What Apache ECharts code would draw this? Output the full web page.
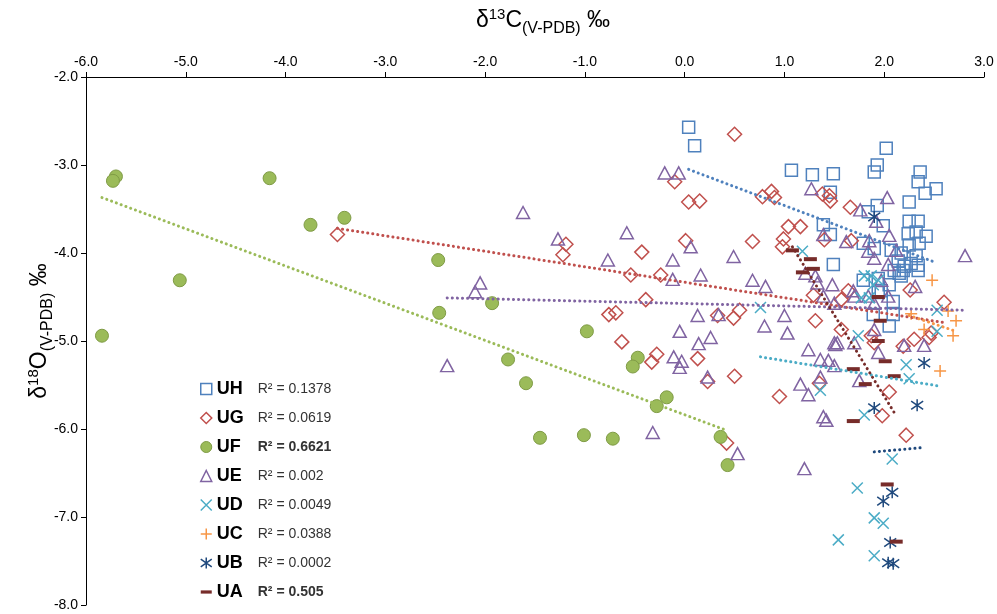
<!DOCTYPE html>
<html>
<head>
<meta charset="utf-8">
<script src="https://cdn.jsdelivr.net/npm/echarts@6/dist/echarts.min.js"></script>
<style>
html, body { margin: 0; padding: 0; background: #fff; }
#chart { width: 997px; height: 614px; }
</style>
</head>
<body>
<div id="chart"></div>
<script>
// δ13C (x) / δ18O (y) pairs per unit
var dataUH = [[0.04,-2.57],[0.10,-2.78],[1.07,-3.06],[1.28,-3.11],[1.49,-3.10],[1.46,-3.31],[1.39,-3.68],[1.46,-3.79],[1.49,-4.13],
    [2.02,-2.81],[1.93,-3.00],[1.90,-3.08],[2.36,-3.08],[2.34,-3.19],[2.41,-3.32],[2.52,-3.27],[2.25,-3.42],[1.93,-3.46],[1.84,-3.53],
    [1.99,-3.69],[2.25,-3.64],[2.34,-3.64],[2.32,-3.76],[2.24,-3.78],[2.42,-3.81],[2.25,-3.91],[2.35,-3.89],[2.07,-3.97],[2.17,-4.00],
    [2.32,-4.03],[1.79,-3.89],[1.90,-3.95],[2.14,-4.09],[2.27,-4.12],[2.34,-4.14],[2.19,-4.20],[2.10,-4.20],[2.20,-4.15],[2.17,-4.26],
    [1.79,-4.31],[1.94,-4.29],[2.15,-4.23],[2.34,-4.20],[2.05,-4.36],[1.97,-4.43],[2.09,-4.55],[1.94,-4.45],[1.89,-4.70],[2.05,-4.83],[2.09,-4.70]];
var dataUG = [[-3.48,-3.79],[-0.10,-3.19],[0.04,-3.42],[0.01,-3.86],[-1.19,-3.90],[-1.22,-4.02],[-0.43,-3.99],[-0.54,-4.25],[-0.24,-4.25],
    [-0.39,-4.53],[-0.76,-4.70],[-0.69,-4.68],[-0.63,-5.01],[-0.28,-5.15],[-0.33,-5.24],[0.13,-5.20],[0.23,-5.46],[0.50,-5.40],[0.95,-5.63],
    [1.35,-5.48],[0.42,-6.16],[0.50,-2.65],[0.15,-3.41],[0.87,-3.30],[0.78,-3.36],[0.90,-3.37],[1.38,-3.33],[1.45,-3.35],[1.46,-3.41],
    [1.04,-3.70],[1.16,-3.70],[1.40,-3.85],[0.99,-3.84],[0.98,-3.93],[0.68,-3.87],[0.33,-4.71],[0.49,-4.74],[0.55,-4.65],[1.29,-4.48],
    [1.31,-4.77],[1.57,-4.53],[1.57,-4.87],[1.66,-3.48],[1.67,-3.86],[2.26,-4.42],[2.60,-4.56],[2.47,-4.91],[2.30,-4.98],[2.19,-5.06],
    [1.87,-4.94],[1.90,-5.02],[2.05,-5.58],[1.98,-5.85],[2.22,-6.07],[1.64,-4.43],[2.45,-4.96]];
var dataUF = [[-5.84,-4.94],[-5.70,-3.13],[-5.73,-3.18],[-4.16,-3.15],[-5.06,-4.31],[-3.75,-3.68],[-3.41,-3.60],[-2.47,-4.08],[-2.46,-4.68],
    [-1.93,-4.57],[-0.98,-4.89],[-1.77,-5.21],[-1.59,-5.48],[-0.47,-5.19],[-0.52,-5.29],[-0.18,-5.64],[-0.28,-5.74],[-1.45,-6.10],
    [-1.01,-6.07],[-0.72,-6.11],[0.36,-6.09],[0.43,-6.41]];
var dataUE = [[-0.20,-3.09],[-0.06,-3.09],[-1.62,-3.54],[-1.27,-3.84],[-0.58,-3.77],[-0.77,-4.08],[-0.12,-4.08],[-0.12,-4.30],[0.06,-3.93],
    [-2.05,-4.34],[-2.10,-4.44],[-2.38,-5.28],[-0.05,-4.89],[-0.11,-5.18],[-0.03,-5.23],[-0.05,-5.30],[-0.32,-6.04],[0.49,-4.04],[0.16,-4.25],
    [0.68,-4.31],[0.81,-4.38],[1.27,-3.27],[1.39,-3.79],[1.21,-4.23],[1.31,-4.26],[1.48,-4.36],[0.13,-4.71],[0.34,-4.70],[1.00,-4.71],
    [0.80,-4.83],[0.26,-4.96],[0.14,-5.03],[1.03,-4.91],[1.24,-5.10],[0.53,-6.28],[0.23,-5.41],[1.16,-5.49],[1.24,-5.61],[1.39,-5.86],
    [1.42,-5.90],[1.20,-6.45],[1.36,-5.21],[1.51,-5.04],[1.33,-4.34],[1.44,-5.22],[1.50,-5.02],[1.53,-5.02],[1.50,-5.28],[1.36,-5.41],
    [2.03,-3.37],[1.76,-3.51],[1.92,-3.64],[2.05,-3.80],[1.85,-3.86],[1.62,-3.87],[1.84,-3.98],[1.90,-4.06],[2.12,-3.97],[2.04,-4.13],
    [2.81,-4.03],[2.31,-4.38],[1.97,-4.31],[1.70,-4.49],[1.39,-4.49],[1.90,-4.57],[2.04,-4.49],[2.40,-5.05],[2.20,-5.05],[1.69,-4.43],
    [1.84,-4.49],[1.90,-4.87],[1.94,-5.13],[1.75,-5.45],[1.50,-4.57],[1.70,-5.02]];
var dataUD = [[0.76,-4.62],[1.18,-3.98],[1.80,-4.26],[1.87,-4.26],[1.94,-4.31],[1.89,-4.36],[1.77,-4.51],[1.85,-4.51],[2.53,-4.65],
    [1.74,-4.94],[2.53,-4.89],[1.36,-5.56],[2.22,-5.27],[2.25,-5.43],[1.80,-5.84],[2.08,-6.34],[1.73,-6.67],[1.90,-7.01],[1.99,-7.07],
    [1.54,-7.26],[1.90,-7.44]];
var dataUC = [[2.48,-4.31],[2.27,-4.69],[2.72,-4.77],[2.40,-4.87],[2.69,-4.94],[2.64,-4.66],[2.56,-5.34]];
var dataUB = [[1.90,-3.59],[2.40,-5.25],[1.90,-5.76],[2.33,-5.73],[2.08,-6.72],[1.99,-6.82],[2.06,-7.29],[2.04,-7.52],[2.09,-7.53]];
var dataUA = [[1.08,-3.97],[1.26,-4.07],[1.29,-4.18],[1.18,-4.22],[1.94,-4.50],[1.96,-4.77],[1.94,-5.00],[2.01,-5.23],[1.69,-5.32],
    [2.10,-5.40],[1.81,-5.49],[1.69,-5.91],[2.03,-6.63],[2.12,-7.28]];

// linear trend lines as drawn in the figure (start / end)
var trendUH = [[0.04,-3.05],[2.52,-4.11]];
var trendUG = [[-3.48,-3.72],[2.60,-4.79]];
var trendUF = [[-5.84,-3.37],[0.43,-6.02]];
var trendUE = [[-2.38,-4.51],[2.81,-4.65]];
var trendUD = [[0.76,-5.18],[2.54,-5.51]];
var trendUC = [[2.25,-4.71],[2.72,-4.89]];
var trendUB = [[1.90,-6.26],[2.40,-6.21]];
var trendUA = [[1.08,-3.93],[2.12,-5.85]];

var units = ['UH', 'UG', 'UF', 'UE', 'UD', 'UC', 'UB', 'UA'];
var r2Labels = ['0.1378', '0.0619', '0.6621', '0.002', '0.0049', '0.0388', '0.0002', '0.505'];
var r2Bold = ['UF', 'UA'];

var font = 'Liberation Sans, Arial, sans-serif';
var pathX = 'path://M0,0L10,10M10,0L0,10';
var pathPlus = 'path://M5,0L5,10M0,5L10,5';
var pathStar = 'path://M0,1.5L10,8.5M10,1.5L0,8.5M5,0L5,10';
var pathDash = 'path://M0,0L12,0L12,3.5L0,3.5Z';

var styles = {
    UH: { data: dataUH, trend: trendUH, color: '#4F81BD', symbol: 'rect', size: 12, fill: 'rgba(0,0,0,0)', bw: 1.5 },
    UG: { data: dataUG, trend: trendUG, color: '#C0504D', symbol: 'diamond', size: 14, fill: 'rgba(0,0,0,0)', bw: 1.5 },
    UF: { data: dataUF, trend: trendUF, color: '#9BBB59', symbol: 'circle', size: 13, fill: '#9BBB59', border: '#7F9B45', bw: 1 },
    UE: { data: dataUE, trend: trendUE, color: '#8064A2', symbol: 'triangle', size: [13, 12], fill: 'rgba(0,0,0,0)', bw: 1.5 },
    UD: { data: dataUD, trend: trendUD, color: '#4BACC6', symbol: pathX, size: 11, fill: 'rgba(0,0,0,0)', bw: 1.5 },
    UC: { data: dataUC, trend: trendUC, color: '#F79646', symbol: pathPlus, size: 12, fill: 'rgba(0,0,0,0)', bw: 1.5 },
    UB: { data: dataUB, trend: trendUB, color: '#1F497D', symbol: pathStar, size: 12, fill: 'rgba(0,0,0,0)', bw: 1.5 },
    UA: { data: dataUA, trend: trendUA, color: '#772C2A', symbol: 'rect', size: [13, 4], fill: '#772C2A', bw: 0 }
};

var chart = echarts.init(document.getElementById('chart'));

var series = [];
var legendData = [];
units.forEach(function (u) {
    var s = styles[u];
    series.push({
        name: u,
        type: 'scatter',
        symbol: s.symbol,
        symbolSize: s.size,
        itemStyle: { color: s.fill, borderColor: s.border || s.color, borderWidth: s.bw, opacity: 1 },
        emphasis: { disabled: true },
        z: 2,
        data: s.data
    });
    legendData.push({
        name: u,
        icon: u === 'UA' ? pathDash : s.symbol,
        itemStyle: { color: s.fill, borderColor: s.border || s.color, borderWidth: s.bw }
    });
});
units.forEach(function (u) {
    var s = styles[u];
    series.push({
        name: u + ' trend',
        type: 'line',
        data: s.trend,
        symbol: 'none',
        silent: true,
        z: 3,
        lineStyle: { color: s.color, width: 3, type: [0.1, 5], cap: 'round' }
    });
});

var titleRich = {
    a: { fontSize: 23, fontFamily: font, color: '#000', lineHeight: 32, verticalAlign: 'middle' },
    sup: { fontSize: 15, fontFamily: font, color: '#000', lineHeight: 32, verticalAlign: 'top', padding: [2, 0, 0, 0] },
    sub: { fontSize: 16, fontFamily: font, color: '#000', lineHeight: 32, verticalAlign: 'bottom' }
};

var option = {
    animation: false,
    backgroundColor: '#fff',
    grid: { left: 86, right: 13, top: 72, bottom: 9 },
    legend: {
        orient: 'vertical',
        left: 200,
        top: 380,
        padding: 0,
        itemGap: 11,
        itemWidth: 11,
        itemHeight: 11,
        selectedMode: false,
        data: legendData,
        formatter: function (name) {
            var i = units.indexOf(name);
            var key = r2Bold.indexOf(name) >= 0 ? 'rb' : 'r';
            return '{n|' + name + '}{' + key + '|R² = ' + r2Labels[i] + '}';
        },
        textStyle: {
            rich: {
                n: { fontSize: 18, fontWeight: 'bold', fontFamily: font, color: '#000', width: 41, lineHeight: 20 },
                r: { fontSize: 14, fontFamily: font, color: '#333', lineHeight: 20 },
                rb: { fontSize: 14, fontWeight: 'bold', fontFamily: font, color: '#333', lineHeight: 20 }
            }
        }
    },
    xAxis: {
        type: 'value',
        position: 'top',
        min: -6,
        max: 3,
        interval: 1,
        name: '{a|δ}{sup|13}{a|C}{sub|(V-PDB)}{a| ‰}',
        nameLocation: 'middle',
        nameGap: 40,
        nameMoveOverlap: false,
        nameTextStyle: { rich: titleRich, padding: [0, 0, 0, 16] },
        axisLine: { show: true, onZero: false, lineStyle: { color: '#000', width: 1 } },
        axisTick: { show: true, length: 5, lineStyle: { color: '#000' } },
        axisLabel: { color: '#000', fontSize: 14, fontFamily: font, margin: 8, formatter: function (v) { return v.toFixed(1); } },
        splitLine: { show: false }
    },
    yAxis: {
        type: 'value',
        min: -8,
        max: -2,
        interval: 1,
        name: '{a|δ}{sup|18}{a|O}{sub|(V-PDB)}{a| ‰}',
        nameLocation: 'middle',
        nameRotate: 90,
        nameGap: 30,
        nameMoveOverlap: false,
        nameTextStyle: { rich: titleRich, padding: [0, 0, 0, 20] },
        axisLine: { show: true, onZero: false, lineStyle: { color: '#000', width: 1 } },
        axisTick: { show: true, length: 5, lineStyle: { color: '#000' } },
        axisLabel: { color: '#000', fontSize: 14, fontFamily: font, margin: 8, formatter: function (v) { return v.toFixed(1); } },
        splitLine: { show: false }
    },
    series: series
};
chart.setOption(option);
</script>
</body>
</html>
